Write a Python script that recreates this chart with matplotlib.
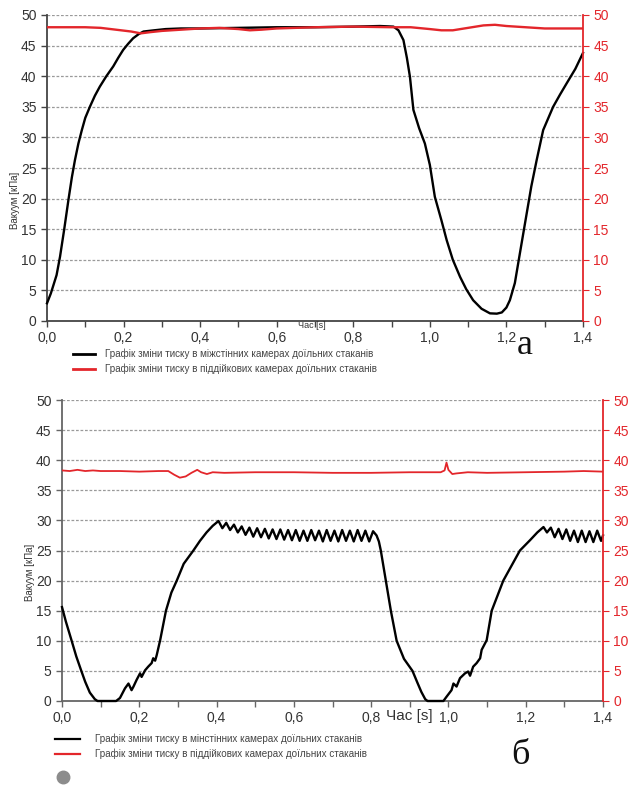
import matplotlib
matplotlib.use('Agg')
import matplotlib.pyplot as plt
from matplotlib.lines import Line2D

plt.rcParams['font.family'] = ['Liberation Sans', 'DejaVu Sans']

# --- chart a ---
t_black_a = [0, 0.01, 0.017, 0.025, 0.034, 0.045, 0.056, 0.065, 0.073, 0.082, 0.091, 0.1,
             0.112, 0.125, 0.138, 0.155, 0.173, 0.186, 0.199, 0.212, 0.225, 0.24, 0.252,
             0.28, 0.31, 0.35, 0.4, 0.5, 0.6, 0.7, 0.8, 0.87, 0.905, 0.918, 0.931, 0.94,
             0.948, 0.957, 0.972, 0.987, 1.0, 1.013, 1.03, 1.044, 1.06, 1.079, 1.095, 1.113,
             1.135, 1.157, 1.175, 1.188, 1.2, 1.209, 1.222, 1.235, 1.253, 1.265, 1.279,
             1.296, 1.322, 1.34, 1.357, 1.38, 1.4]
black_a = [2.9, 4.5, 5.9, 7.5, 10.5, 15, 19.8, 23.5, 26.3, 29, 31.2, 33.2,
           35, 36.8, 38.3, 40, 41.6, 43, 44.3, 45.3, 46.2, 46.9, 47.3,
           47.5, 47.7, 47.8, 47.8, 47.9, 48.0, 48.0, 48.1, 48.2, 48.1, 47.5, 45.9, 43,
           39.9, 34.5, 31.5, 29, 25.5, 20.3, 16.5, 13.2, 10, 7.2, 5.2, 3.4,
           2.0, 1.25, 1.2, 1.4, 2.2, 3.4, 6.2, 11, 17.6, 22, 26.3,
           31.2, 35, 37, 38.8, 41.2, 43.8]
t_red_a = [0, 0.05, 0.1, 0.14, 0.18, 0.22, 0.245, 0.27, 0.3, 0.35, 0.4, 0.45, 0.5, 0.53,
           0.56, 0.6, 0.65, 0.7, 0.8, 0.9, 0.95, 1.0, 1.03, 1.06, 1.1, 1.14, 1.17, 1.2,
           1.25, 1.3, 1.35, 1.4]
red_a = [48.0, 48.0, 48.0, 47.9, 47.6, 47.3, 47.0, 47.2, 47.4, 47.6, 47.8, 47.9, 47.7, 47.5,
         47.6, 47.8, 47.9, 48.0, 48.1, 48.0, 48.0, 47.7, 47.5, 47.5, 47.9, 48.3, 48.4, 48.2,
         48.0, 47.8, 47.8, 47.8]

# --- chart б ---
t_black_b = [0, 0.01, 0.025, 0.037, 0.05, 0.06, 0.072, 0.085, 0.092, 0.14,
             0.15, 0.163, 0.172, 0.18, 0.185, 0.193, 0.202, 0.206, 0.215, 0.223, 0.232,
             0.236, 0.241, 0.245, 0.254, 0.269, 0.283, 0.297, 0.315, 0.34, 0.357, 0.374,
             0.39, 0.405,
             0.415, 0.425, 0.435, 0.445, 0.455, 0.465, 0.475, 0.485, 0.495, 0.505, 0.515,
             0.525, 0.535, 0.545, 0.555, 0.565, 0.575, 0.585, 0.595, 0.605, 0.615, 0.625,
             0.635, 0.645, 0.655, 0.665, 0.675, 0.685, 0.695, 0.705, 0.715, 0.725, 0.735,
             0.745, 0.755, 0.765, 0.775, 0.785, 0.795, 0.805, 0.814,
             0.82, 0.825, 0.838, 0.851, 0.866, 0.885, 0.907, 0.92, 0.93, 0.94, 0.946,
             0.987, 0.995, 1.008, 1.013, 1.021, 1.03, 1.043, 1.051, 1.056, 1.064, 1.073,
             1.082, 1.086, 1.099, 1.112, 1.142, 1.185, 1.211, 1.23, 1.246,
             1.255, 1.265, 1.275, 1.285, 1.295, 1.305, 1.315, 1.325, 1.335, 1.345, 1.355,
             1.365, 1.375, 1.385, 1.395, 1.4]
black_b = [15.6, 13.2, 10, 7.4, 5, 3.2, 1.4, 0.3, 0, 0,
           0.5, 2.1, 2.9, 1.8, 2.4, 3.5, 4.6, 4.0, 5.1, 5.7, 6.3,
           7.1, 6.7, 7.6, 10.1, 15, 18, 20, 22.8, 25, 26.6, 28,
           29.1, 29.9,
           28.7, 29.6, 28.4, 29.3, 28.0, 29.0, 27.6, 28.8, 27.3, 28.7, 27.2,
           28.6, 27.0, 28.5, 26.9, 28.5, 26.8, 28.4, 26.7, 28.4, 26.6, 28.3,
           26.6, 28.4, 26.7, 28.3, 26.5, 28.4, 26.6, 28.3, 26.5, 28.4, 26.6,
           28.3, 26.5, 28.4, 26.6, 28.3, 26.5, 28.2, 27.5,
           26.5, 25, 20, 15, 10, 7, 5, 3, 1.5, 0.3, 0,
           0, 0.7, 1.8, 2.9, 2.4, 3.8, 4.6, 4.9, 4.2, 5.7, 6.3,
           7.1, 8.5, 10.1, 15, 20, 25, 26.7, 28, 28.9,
           28.0, 28.8, 27.2, 28.6, 26.9, 28.5, 26.6, 28.3, 26.4, 28.3, 26.4,
           28.2, 26.4, 28.3, 26.6, 27.5]
t_red_b = [0, 0.02, 0.04, 0.06, 0.08, 0.1, 0.15, 0.2, 0.25, 0.275, 0.29, 0.305, 0.32, 0.335,
           0.35, 0.36, 0.375, 0.39, 0.42, 0.5, 0.6, 0.7, 0.8, 0.9, 0.98, 0.99, 0.995, 1.0,
           1.01, 1.02, 1.05, 1.1, 1.2, 1.3, 1.35, 1.4]
red_b = [38.3, 38.2, 38.4, 38.2, 38.3, 38.2, 38.2, 38.1, 38.2, 38.2, 37.6, 37.1, 37.3, 37.9,
         38.4, 38.0, 37.7, 38.0, 37.9, 38.0, 38.0, 37.9, 37.9, 38.0, 38.0, 38.3, 39.6, 38.4,
         37.7, 37.8, 38.0, 37.9, 38.0, 38.1, 38.2, 38.1]

x_ticks = [0, 0.2, 0.4, 0.6, 0.8, 1.0, 1.2, 1.4]
x_ticklabels = ['0,0', '0,2', '0,4', '0,6', '0,8', '1,0', '1,2', '1,4']
x_minor = [0.1, 0.3, 0.5, 0.7, 0.9, 1.1, 1.3]
y_ticks = list(range(0, 51, 5))

legend_labels = ['Графік зміни тиску в міжстінних камерах доїльних стаканів',
                 'Графік зміни тиску в піддійкових камерах доїльних стаканів']
legend_labels_b = ['Графік зміни тиску в мінстінних камерах доїльних стаканів',
                   'Графік зміни тиску в піддійкових камерах доїльних стаканів']

RED = '#e3262b'
W, H = 631, 785
fig = plt.figure(figsize=(W / 100, H / 100), dpi=100)


def make_panel(rect, t_blk, blk, t_red, red, spine_col, lab_size, red_lw):
    ax = fig.add_axes(rect)
    ax.set_xlim(0, 1.4)
    ax.set_ylim(0, 50)
    ax.set_yticks(y_ticks)
    ax.set_xticks(x_ticks)
    ax.set_xticklabels(x_ticklabels)
    ax.set_xticks(x_minor, minor=True)
    for y in y_ticks[1:]:
        ax.axhline(y, color='#9a9a9a', lw=0.9, ls=(0, (2.2, 1.4)), zorder=0)
    ax.spines['top'].set_visible(False)
    ax.spines['right'].set_visible(False)
    ax.spines['left'].set_color(spine_col)
    ax.spines['bottom'].set_color(spine_col)
    ax.spines['left'].set_linewidth(1.3)
    ax.spines['bottom'].set_linewidth(1.3)
    ax.tick_params(axis='both', which='both', direction='out', colors=spine_col,
                   labelcolor='#333333', labelsize=lab_size, length=4, width=1)
    ax.tick_params(axis='x', pad=3)
    ax.plot(t_blk, blk, color='black', lw=1.7, zorder=3, clip_on=False)

    ax2 = ax.twinx()
    ax2.set_ylim(0, 50)
    ax2.set_yticks(y_ticks)
    for s in ['top', 'left', 'bottom']:
        ax2.spines[s].set_visible(False)
    ax2.spines['right'].set_color(RED)
    ax2.spines['right'].set_linewidth(1.3)
    ax2.tick_params(axis='y', colors=RED, labelcolor=RED, labelsize=lab_size, length=4)
    ax2.plot(t_red, red, color=RED, lw=red_lw, zorder=2)
    return ax


ax_a = make_panel([47 / W, 1 - 321 / H, 536 / W, 306 / H],
                  t_black_a, black_a, t_red_a, red_a, '#444444', 10, 1.7)
ax_b = make_panel([62 / W, 1 - 701 / H, 541 / W, 301 / H],
                  t_black_b, black_b, t_red_b, red_b, '#666666', 10, 1.3)

# axis titles
fig.text(15 / W, 1 - 200 / H, 'Вакуум [кПа]', rotation=90, ha='center', va='center',
         fontsize=7, color='#333333')
fig.text(30 / W, 1 - 572 / H, 'Вакуум [кПа]', rotation=90, ha='center', va='center',
         fontsize=7, color='#333333')
fig.text(312 / W, 1 - 325 / H, 'Час [s]', ha='center', va='center', fontsize=6.5,
         color='#333333')
fig.text(409 / W, 1 - 716 / H, 'Час [s]', ha='center', va='center', fontsize=11,
         color='#333333')

# legends
for (y, col, lab) in [(354, 'black', legend_labels[0]), (369, RED, legend_labels[1])]:
    fig.add_artist(Line2D([73 / W, 95 / W], [1 - y / H, 1 - y / H], color=col, lw=2))
    fig.text(105 / W, 1 - y / H, lab, ha='left', va='center', fontsize=7.1, color='#444444')
for (y, col, lab) in [(739, 'black', legend_labels_b[0]), (754, RED, legend_labels_b[1])]:
    fig.add_artist(Line2D([55 / W, 80 / W], [1 - y / H, 1 - y / H], color=col, lw=1.6))
    fig.text(95 / W, 1 - y / H, lab, ha='left', va='center', fontsize=7.1, color='#444444')

fig.add_artist(Line2D([63 / W], [1 - 777 / H], marker='o', markersize=9,
                      color='#8c8c8c', lw=0))

# panel letters
fig.text(525 / W, 1 - 345 / H, 'а', ha='center', va='center', fontsize=26,
         family='Liberation Serif', color='#111111')
fig.text(520 / W, 1 - 755 / H, 'б', ha='center', va='center', fontsize=26,
         family='Liberation Serif', color='#111111')

fig.savefig('out.png', dpi=100)
